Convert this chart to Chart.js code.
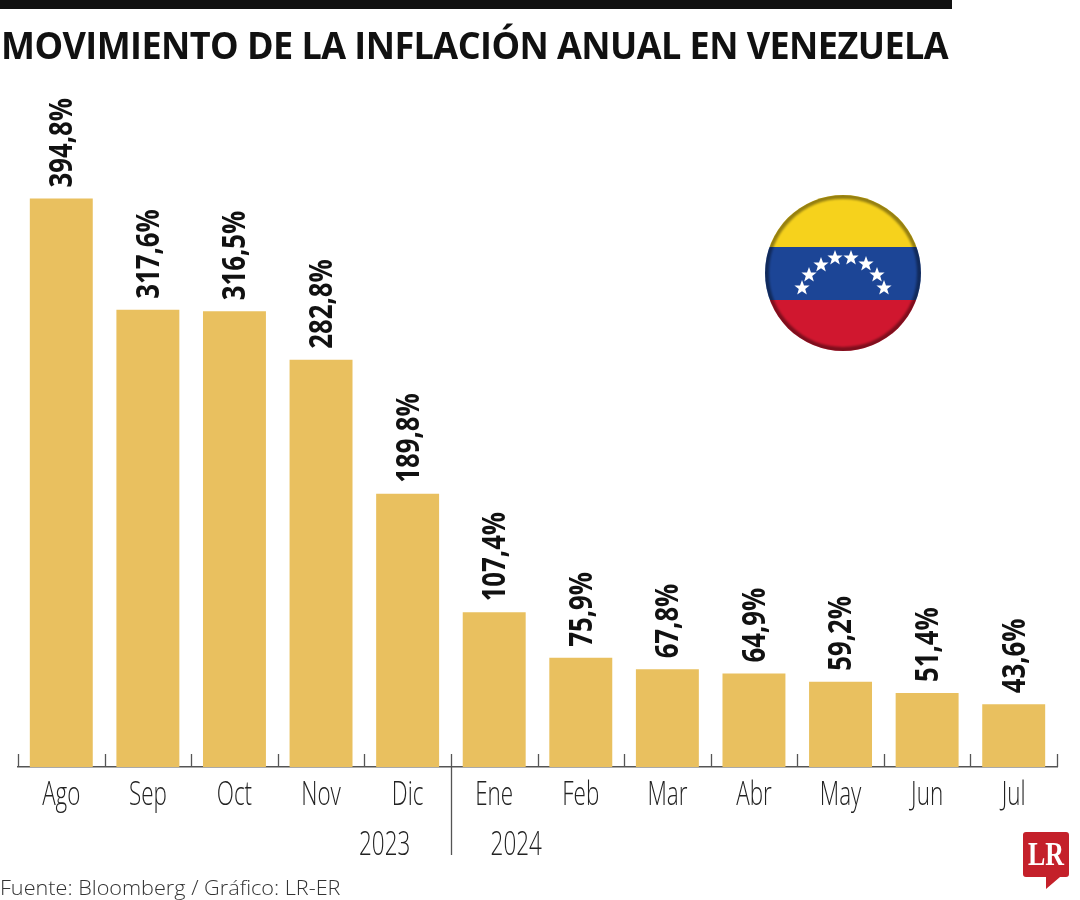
<!DOCTYPE html>
<html lang="es">
<head>
<meta charset="utf-8">
<title>Movimiento de la inflación anual en Venezuela</title>
<script src="https://cdn.jsdelivr.net/npm/chart.js@4"></script>
<style>
    html, body { margin: 0; padding: 0; background: #fff; }
    body { position: relative; width: 1080px; height: 900px; overflow: hidden; }
    #chart { position: absolute; left: 0; top: 0; }
    #rule { position: absolute; left: 0; top: 0; width: 952px; height: 9px; background: #111; }
    #title {
        position: absolute; left: 1px; top: 18px; white-space: nowrap; color: #111;
        font: bold 38px "Open Sans", sans-serif; letter-spacing: -0.6px;
        transform-origin: left top; transform: scaleX(0.948);
    }
    #source { position: absolute; left: 0; top: 873px; font: 300 21px "Open Sans", sans-serif; color: #333; white-space: nowrap; transform-origin: left top; transform: scaleX(1.03); }
    #flag, #logo { position: absolute; left: 0; top: 0; }
</style>
</head>
<body>
<canvas id="chart" width="1080" height="900"></canvas>
<div id="rule"></div>
<div id="title">MOVIMIENTO DE LA INFLACIÓN ANUAL EN VENEZUELA</div>
<div id="source">Fuente: Bloomberg / Gráfico: LR-ER</div>

<svg id="flag" width="1080" height="900">
    <defs>
        <clipPath id="disc"><circle cx="843" cy="273" r="78"/></clipPath>
        <filter id="soft"><feGaussianBlur stdDeviation="1.2"/></filter>
        <polygon id="star" points="0,-8 2,-2.6 7.6,-2.5 3.2,1 4.8,6.5 0,3.3 -4.8,6.5 -3.2,1 -7.6,-2.5 -2,-2.6" fill="#fff"/>
    </defs>
    <g clip-path="url(#disc)">
        <rect x="760" y="190" width="170" height="57" fill="#f6d21c"/>
        <rect x="760" y="247" width="170" height="53" fill="#1c4596"/>
        <rect x="760" y="300" width="170" height="60" fill="#d0172f"/>
        <circle cx="843" cy="273" r="76.5" fill="none" stroke="#000" stroke-opacity="0.4" stroke-width="5" filter="url(#soft)"/>
    </g>
    <use href="#star" x="802" y="288"/>
    <use href="#star" x="809" y="275"/>
    <use href="#star" x="821" y="265"/>
    <use href="#star" x="835" y="258"/>
    <use href="#star" x="851" y="258"/>
    <use href="#star" x="866" y="264"/>
    <use href="#star" x="877" y="275"/>
    <use href="#star" x="884" y="288"/>
</svg>

<svg id="logo" width="1080" height="900">
    <path d="M1026 832 H1066 Q1069 832 1069 835 V874 Q1069 877 1066 877 H1060 L1046 889 V877 H1026 Q1023 877 1023 874 V835 Q1023 832 1026 832 Z" fill="#c4202a"/>
    <text x="1028" y="865" textLength="36" lengthAdjust="spacingAndGlyphs" font-family="Liberation Serif" font-weight="bold" font-size="33" fill="#fff">LR</text>
</svg>

<script>
// datos
const months = ['Ago', 'Sep', 'Oct', 'Nov', 'Dic', 'Ene', 'Feb', 'Mar', 'Abr', 'May', 'Jun', 'Jul'];
const inflation = [394.8, 317.6, 316.5, 282.8, 189.8, 107.4, 75.9, 67.8, 64.9, 59.2, 51.4, 43.6];
const years = ['2023', '2024'];

const labelFont = '"Open Sans", sans-serif';

// texto angosto: no hay fuente condensada instalada, se comprime en horizontal
function narrowText(ctx, text, x, y, squeeze) {
    ctx.save();
    ctx.translate(x, y);
    ctx.scale(squeeze, 1);
    ctx.fillText(text, 0, 0);
    ctx.restore();
}

// etiquetas de valor giradas, meses, marcas del eje y años
const annotations = {
    id: 'annotations',
    afterDraw(chart) {
        const ctx = chart.ctx;
        const x = chart.scales.x;
        const step = x.getPixelForValue(1) - x.getPixelForValue(0);
        const base = chart.chartArea.bottom;

        ctx.save();
        ctx.strokeStyle = '#555';
        ctx.lineWidth = 1.3;
        months.concat('').forEach((m, i) => {
            const px = Math.round(x.getPixelForValue(0) + (i - 0.5) * step) + 0.5;
            const isDivider = i === 5;
            ctx.beginPath();
            ctx.moveTo(px, base - 13);
            ctx.lineTo(px, isDivider ? base + 88 : base);
            ctx.stroke();
        });
        ctx.restore();

        ctx.save();
        ctx.fillStyle = '#111';
        ctx.font = 'bold 33px ' + labelFont;
        ctx.textAlign = 'left';
        ctx.textBaseline = 'middle';
        chart.getDatasetMeta(0).data.forEach((bar, i) => {
            ctx.save();
            ctx.translate(bar.x + 1.5, bar.y - 11);
            ctx.rotate(-Math.PI / 2);
            narrowText(ctx, inflation[i].toFixed(1).replace('.', ',') + '%', 0, 0, 0.78);
            ctx.restore();
        });
        ctx.restore();

        ctx.save();
        ctx.fillStyle = '#222';
        ctx.font = '300 33px ' + labelFont;
        ctx.textAlign = 'center';
        ctx.textBaseline = 'middle';
        months.forEach((m, i) => {
            narrowText(ctx, m, x.getPixelForValue(i), 796, 0.68);
        });
        narrowText(ctx, years[0], x.getPixelForValue(4) - 23, 846, 0.68);
        narrowText(ctx, years[1], x.getPixelForValue(5) + 22, 846, 0.68);
        ctx.restore();
    }
};

new Chart(document.getElementById('chart').getContext('2d'), {
    type: 'bar',
    data: {
        labels: months,
        datasets: [{
            data: inflation,
            backgroundColor: '#e9c05f',
            barPercentage: 0.727,
            categoryPercentage: 1
        }]
    },
    options: {
        responsive: false,
        animation: false,
        layout: { padding: { left: 18, right: 23, top: 47, bottom: 0 } },
        plugins: {
            legend: { display: false },
            title: { display: false },
            tooltip: { enabled: false }
        },
        scales: {
            y: { display: false, min: 0, max: 500 },
            x: {
                afterFit(scale) { scale.height = 133; },
                grid: { drawOnChartArea: false, drawTicks: false },
                border: { color: '#555', width: 1.5 },
                ticks: { display: false }
            }
        }
    },
    plugins: [annotations]
});
</script>
</body>
</html>
